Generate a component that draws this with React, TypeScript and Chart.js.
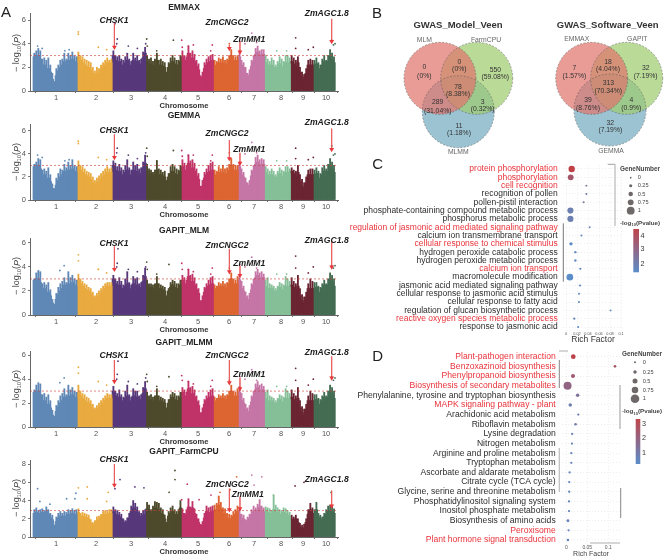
import React, { useEffect, useRef } from "react";
import { Chart, registerables } from "chart.js";

Chart.register(...registerables);

const FONT = "'Liberation Sans', Arial, sans-serif";

// ---------- Manhattan data ----------
const chromosomes = ["1", "2", "3", "4", "5", "6", "7", "8", "9", "10"];
const chromosomeLengths = [307, 244, 235, 246, 224, 174, 182, 181, 159, 150];
const chromosomeTicks = [158, 437, 681, 918, 1148, 1364, 1538, 1726, 1879, 2040];
const chromosomeColors = ["#5f88b6", "#e9aa3f", "#57387b", "#4e4a2c", "#c03369", "#dd6531", "#c576a6", "#85bf98", "#6b2532", "#446c53"];
const geneNames = ["CHSK1", "ZmCNGC2", "ZmMM1", "ZmAGC1.8"];
const genePositions = [565, 1366, 1440, 2079];

const solidMixedModels = [
  [2.9, 3.0, 3.0, 2.7, 2.2, 2.2, 1.8, 1.9, 1.6, 1.0, 0.6, 1.3, 1.7, 2.0, 2.2, 2.5, 2.2, 2.6, 2.5, 2.7, 2.5, 2.4],
  [2.9, 2.6, 2.4, 2.2, 2.1, 2.0, 1.8, 1.5, 1.3, 1.5, 1.5, 1.8, 2.0, 2.2, 2.4, 2.3, 2.4],
  [3.0, 2.6, 2.4, 2.5, 2.2, 2.1, 2.4, 2.6, 2.2, 2.1, 2.6, 2.4, 2.5, 2.2, 2.3, 2.8, 3.2],
  [2.5, 2.2, 2.3, 2.1, 2.2, 2.6, 2.2, 2.2, 2.1, 2.0, 1.2, 2.0, 2.3, 2.5, 2.3, 2.2, 2.2, 2.5],
  [2.9, 2.6, 2.5, 3.2, 2.7, 2.8, 2.5, 2.1, 1.8, 0.9, 1.2, 1.9, 2.2, 2.4, 2.5, 2.6],
  [2.2, 2.1, 2.4, 2.3, 2.4, 2.2, 2.3, 2.6, 3.0, 2.6, 2.5, 2.6],
  [2.9, 2.2, 2.0, 1.5, 1.0, 1.3, 2.1, 2.5, 3.1, 3.3, 3.0, 3.1, 3.1],
  [2.4, 2.2, 2.0, 2.2, 2.0, 1.7, 2.0, 2.3, 2.1, 2.0, 2.4, 2.4, 2.3],
  [2.5, 2.3, 2.1, 2.4, 1.6, 1.2, 1.0, 1.5, 2.2, 2.2, 2.2],
  [2.2, 2.3, 1.9, 1.8, 2.2, 2.5, 2.1, 2.5, 3.0, 2.7, 2.4],
];
const solidFarmCpu = [
  [2.6, 2.7, 2.5, 2.6, 2.7, 2.5, 2.8, 2.5, 2.1, 1.9, 0.9, 1.7, 2.1, 2.3, 2.1, 2.3, 2.2, 2.5, 2.4, 2.6, 2.4, 2.5],
  [2.7, 2.2, 2.3, 2.2, 2.1, 2.0, 1.5, 1.2, 1.4, 1.8, 1.9, 2.1, 2.4, 2.5, 2.4, 2.6, 2.6],
  [2.8, 2.5, 2.4, 2.2, 2.0, 1.6, 1.4, 1.7, 2.1, 2.8, 3.2, 3.0, 2.7, 2.3, 2.1, 2.4, 2.5],
  [3.1, 2.9, 2.5, 2.8, 3.2, 3.1, 3.0, 2.6, 2.5, 2.0, 1.2, 2.3, 2.6, 2.8, 2.5, 2.3, 2.5, 3.2],
  [2.6, 2.2, 2.5, 3.3, 2.7, 3.2, 2.6, 2.0, 1.6, 1.0, 1.3, 2.1, 2.8, 2.6, 2.7, 2.8],
  [2.9, 3.0, 3.5, 3.1, 2.6, 2.5, 2.1, 2.0, 2.0, 2.3, 2.5, 2.8],
  [2.5, 2.1, 2.0, 1.5, 1.8, 2.1, 2.5, 2.8, 2.6, 3.0, 3.3, 2.8, 2.7],
  [2.8, 2.7, 2.6, 2.4, 3.0, 2.9, 2.7, 2.5, 2.4, 2.7, 2.6, 2.4, 2.3],
  [2.0, 1.8, 2.0, 1.6, 1.1, 1.0, 1.0, 1.6, 2.5, 3.0, 2.6],
  [2.5, 3.0, 2.2, 2.0, 1.8, 2.2, 2.5, 2.8, 2.9, 2.7, 2.6],
];
const peaksEmmax = [
  [3.2, 3.4, 3.6, 3.4, 2.7, 2.8, 2.6, 2.8, 2.2, 1.5, 0.8, 1.9, 2.2, 2.6, 2.7, 3.2, 2.7, 3.2, 3.0, 3.3, 3.0, 2.9],
  [3.3, 3.0, 2.9, 2.7, 2.6, 2.5, 2.4, 2.0, 1.7, 2.0, 1.9, 2.2, 2.4, 2.6, 2.8, 2.6, 2.7],
  [3.4, 3.0, 2.9, 3.0, 2.7, 2.6, 2.9, 3.2, 2.7, 2.5, 3.2, 2.8, 3.0, 2.6, 2.7, 3.3, 3.7],
  [3.0, 2.7, 2.8, 2.5, 2.7, 3.2, 2.6, 2.7, 2.5, 2.4, 1.6, 2.4, 2.8, 3.0, 2.8, 2.6, 2.6, 3.0],
  [3.4, 3.0, 2.9, 3.8, 3.2, 3.4, 3.1, 2.6, 2.3, 1.3, 1.6, 2.4, 2.7, 2.9, 3.0, 3.1],
  [2.6, 2.5, 2.8, 2.7, 2.9, 2.6, 2.7, 3.0, 3.5, 3.0, 2.9, 3.0],
  [3.4, 2.6, 2.4, 2.0, 1.5, 1.8, 2.6, 3.0, 3.6, 3.8, 3.4, 3.5, 3.5],
  [3.0, 2.7, 2.5, 2.8, 2.6, 2.2, 2.5, 2.9, 2.7, 2.5, 3.0, 3.0, 2.8],
  [3.0, 2.8, 2.6, 2.9, 2.0, 1.6, 1.4, 1.9, 2.6, 2.7, 2.6],
  [2.6, 2.8, 2.4, 2.2, 2.7, 3.0, 2.6, 3.0, 3.5, 3.2, 2.9],
];
const peaksGemma = [
  [3.1, 3.3, 3.6, 3.5, 2.6, 2.7, 2.5, 2.8, 2.2, 1.4, 1.0, 1.9, 2.3, 2.7, 2.6, 3.1, 2.8, 3.3, 3.0, 3.5, 3.0, 2.9],
  [3.4, 3.0, 2.9, 2.7, 2.5, 2.4, 2.3, 2.0, 1.7, 1.9, 2.1, 2.3, 2.5, 2.7, 2.9, 2.7, 2.8],
  [3.4, 3.2, 2.9, 3.1, 2.8, 2.6, 3.0, 3.5, 2.8, 2.6, 3.3, 3.0, 3.1, 2.7, 2.8, 3.3, 3.9],
  [3.1, 2.7, 2.6, 2.4, 2.6, 3.4, 2.7, 2.6, 2.4, 2.5, 1.7, 2.3, 2.9, 3.1, 2.9, 2.7, 2.6, 3.0],
  [3.5, 3.2, 3.0, 3.9, 3.4, 3.5, 3.2, 2.7, 2.3, 1.2, 1.7, 2.4, 2.7, 3.0, 3.2, 3.3],
  [2.6, 2.5, 2.9, 2.7, 3.0, 2.7, 2.8, 3.1, 3.6, 3.1, 3.0, 3.0],
  [3.3, 2.7, 2.4, 1.9, 1.5, 1.7, 2.6, 3.0, 3.7, 3.9, 3.5, 3.6, 3.5],
  [2.9, 2.7, 2.5, 2.7, 2.5, 2.2, 2.5, 2.8, 2.6, 2.5, 2.9, 2.9, 2.7],
  [2.8, 2.6, 2.5, 3.0, 2.2, 1.8, 1.5, 2.0, 2.6, 2.7, 2.7],
  [2.6, 2.8, 2.5, 2.3, 2.8, 3.0, 2.7, 3.1, 3.6, 3.3, 3.0],
];
const peaksMlm = [
  [3.0, 3.5, 3.7, 3.6, 2.6, 2.7, 2.5, 2.7, 2.1, 1.3, 0.9, 1.8, 2.3, 2.6, 2.8, 3.1, 2.7, 3.6, 3.1, 3.3, 3.0, 2.9],
  [3.4, 3.0, 2.8, 2.6, 2.5, 2.3, 2.2, 1.9, 1.6, 1.8, 2.0, 2.2, 2.4, 2.6, 2.7, 2.7, 2.7],
  [3.3, 3.0, 2.8, 3.1, 2.8, 2.5, 3.0, 3.6, 2.7, 2.5, 3.2, 3.0, 3.1, 2.6, 2.7, 3.3, 3.9],
  [2.9, 2.6, 2.6, 2.5, 2.6, 3.2, 2.6, 2.5, 2.4, 2.3, 1.6, 2.2, 2.7, 2.9, 2.8, 2.6, 2.6, 2.9],
  [3.3, 3.1, 2.9, 3.8, 3.3, 3.4, 3.1, 2.6, 2.2, 1.2, 1.6, 2.3, 2.6, 2.9, 3.1, 3.2],
  [2.5, 2.4, 2.7, 2.6, 2.8, 2.6, 2.7, 3.0, 3.5, 3.0, 2.9, 3.2],
  [3.4, 2.8, 2.4, 1.9, 1.6, 1.8, 2.6, 3.0, 3.6, 3.8, 3.5, 3.6, 3.4],
  [2.9, 3.1, 2.6, 2.5, 2.4, 2.2, 2.4, 2.7, 2.6, 2.5, 3.2, 3.0, 2.8],
  [3.1, 2.8, 2.6, 3.3, 2.2, 1.7, 1.5, 1.9, 2.6, 3.0, 2.8],
  [2.7, 2.7, 2.4, 2.3, 2.6, 2.9, 2.6, 3.0, 3.5, 3.3, 3.0],
];
const peaksMlmm = [
  [3.1, 3.5, 3.7, 3.6, 2.7, 2.8, 2.5, 2.7, 2.2, 1.4, 0.9, 1.8, 2.2, 2.6, 2.8, 3.2, 2.7, 3.5, 3.1, 3.3, 3.0, 2.9],
  [3.5, 3.0, 2.8, 2.7, 2.5, 2.4, 2.2, 1.9, 1.6, 1.8, 2.0, 2.2, 2.4, 2.6, 2.8, 2.7, 2.7],
  [3.4, 3.0, 2.8, 3.1, 2.7, 2.5, 3.0, 3.5, 2.7, 2.5, 3.2, 3.0, 3.0, 2.6, 2.7, 3.3, 3.8],
  [2.9, 2.6, 2.7, 2.5, 2.6, 3.2, 2.6, 2.5, 2.4, 2.3, 1.6, 2.3, 2.7, 2.9, 2.8, 2.6, 2.6, 2.9],
  [3.3, 3.1, 2.9, 3.8, 3.3, 3.4, 3.1, 2.6, 2.2, 1.2, 1.6, 2.3, 2.6, 2.9, 3.1, 3.2],
  [2.5, 2.4, 2.7, 2.6, 2.8, 2.6, 2.7, 3.0, 3.5, 3.0, 2.9, 3.2],
  [3.4, 2.8, 2.4, 1.9, 1.6, 1.8, 2.6, 3.0, 3.6, 3.8, 3.5, 3.6, 3.4],
  [2.9, 3.1, 2.6, 2.5, 2.4, 2.2, 2.4, 2.7, 2.6, 2.5, 3.2, 3.0, 2.8],
  [3.1, 2.8, 2.6, 3.3, 2.2, 1.7, 1.5, 1.9, 2.6, 3.0, 2.8],
  [2.7, 2.7, 2.4, 2.3, 2.6, 2.9, 2.6, 3.0, 3.5, 3.3, 3.0],
];
const peaksFarmCpu = [
  [3.0, 3.2, 2.9, 3.0, 3.1, 2.9, 3.3, 3.0, 2.6, 2.4, 1.3, 2.2, 2.6, 2.8, 2.6, 2.8, 2.7, 3.0, 2.9, 3.1, 2.9, 3.0],
  [3.1, 2.6, 2.7, 2.6, 2.5, 2.4, 1.9, 1.6, 1.8, 2.2, 2.3, 2.5, 2.8, 2.9, 2.8, 3.0, 3.0],
  [3.3, 3.0, 2.9, 2.7, 2.5, 2.0, 1.8, 2.1, 2.6, 3.4, 4.0, 3.7, 3.3, 2.8, 2.6, 2.9, 3.0],
  [3.8, 3.5, 3.0, 3.4, 3.9, 3.8, 3.7, 3.2, 3.0, 2.4, 1.6, 2.8, 3.2, 3.4, 3.0, 2.8, 3.0, 4.0],
  [3.1, 2.6, 3.0, 4.2, 3.3, 3.9, 3.1, 2.5, 2.0, 1.4, 1.7, 2.6, 3.4, 3.2, 3.3, 3.4],
  [3.5, 3.7, 4.5, 3.8, 3.2, 3.1, 2.6, 2.5, 2.4, 2.8, 3.0, 3.4],
  [3.0, 2.5, 2.4, 1.9, 2.2, 2.5, 3.0, 3.4, 3.2, 3.6, 4.1, 3.4, 3.2],
  [3.3, 3.2, 3.1, 2.9, 4.6, 3.5, 3.2, 3.0, 2.9, 3.2, 3.1, 2.9, 2.7],
  [2.4, 2.2, 2.4, 2.0, 1.5, 1.3, 1.4, 2.0, 3.0, 3.7, 3.2],
  [3.0, 3.8, 2.6, 2.4, 2.2, 2.6, 3.0, 3.4, 3.5, 3.3, 3.1],
];

const pointsEmmax = [[314, 5.0], [314, 4.8], [453, 3.7], [511, 3.5], [569, 5.7], [585, 4.4], [581, 4.0], [662, 3.8], [725, 3.6], [790, 4.4], [783, 4.0], [794, 3.8], [860, 3.4], [976, 4.3], [1034, 4.3], [1038, 3.7], [1115, 3.9], [1080, 3.8], [1247, 3.9], [1236, 3.4], [1366, 4.0], [1440, 4.2], [1522, 4.9], [1475, 4.0], [1556, 4.1], [1828, 4.5], [1828, 3.6], [1916, 3.5], [1951, 3.7], [2079, 4.3], [2091, 3.9], [2102, 4.0], [1696, 3.4], [1765, 3.4], [30, 3.8], [62, 3.6], [220, 3.4], [250, 3.5]];
const pointsGemma = [[314, 5.1], [314, 4.9], [453, 3.7], [511, 3.5], [585, 4.5], [581, 4.1], [662, 3.9], [725, 3.6], [790, 4.5], [783, 4.1], [794, 3.8], [860, 3.4], [976, 4.3], [1034, 4.3], [1038, 3.8], [1115, 3.9], [1080, 3.9], [1247, 3.9], [1236, 3.4], [1366, 4.1], [1522, 5.0], [1475, 4.0], [1556, 4.1], [1828, 4.5], [1828, 3.6], [1916, 3.5], [1951, 3.7], [2079, 4.7], [2091, 3.9], [2102, 4.0], [1696, 3.4], [1765, 3.4], [30, 3.9], [62, 3.7], [220, 3.4], [250, 3.5]];
const pointsMlm = [[314, 5.0], [314, 4.5], [453, 3.8], [511, 3.5], [590, 5.5], [585, 4.3], [581, 4.0], [662, 3.8], [725, 3.6], [790, 4.4], [783, 4.0], [794, 3.8], [860, 3.4], [945, 4.2], [1034, 4.3], [1038, 3.8], [1115, 3.6], [1080, 3.8], [1247, 3.9], [1236, 3.4], [1366, 3.9], [1440, 4.2], [1522, 4.8], [1475, 4.0], [1556, 3.9], [1828, 4.9], [1828, 3.9], [1916, 3.5], [1951, 4.0], [2079, 4.1], [2091, 3.9], [2102, 4.1], [1696, 3.4], [1765, 3.4], [215, 4.1], [185, 3.7], [453, 3.8]];
const pointsMlmm = [[314, 5.0], [314, 4.5], [453, 3.8], [511, 3.5], [590, 5.5], [585, 4.4], [581, 4.0], [662, 3.8], [725, 3.6], [790, 4.4], [783, 4.1], [794, 3.8], [860, 3.4], [945, 4.2], [1034, 4.3], [1038, 3.9], [1115, 3.6], [1080, 3.8], [1247, 3.9], [1236, 3.4], [1366, 3.9], [1440, 4.2], [1522, 4.8], [1475, 4.0], [1556, 3.9], [1828, 4.9], [1828, 3.9], [1916, 3.5], [1951, 4.0], [2079, 4.2], [2091, 3.9], [2102, 4.1], [1696, 3.4], [1765, 3.4], [215, 4.1], [185, 3.7]];
const pointsFarmCpu = [[30, 5.3], [46, 3.9], [116, 3.6], [232, 4.2], [297, 4.8], [290, 4.2], [314, 5.4], [376, 5.5], [376, 4.2], [511, 3.9], [522, 4.9], [569, 5.3], [604, 6.3], [708, 5.5], [771, 5.4], [946, 4.9], [987, 7.3], [987, 6.3], [1073, 5.8], [1034, 4.1], [1155, 4.1], [1238, 4.6], [1301, 4.9], [1371, 5.2], [1417, 6.6], [1522, 6.8], [1538, 5.7], [1592, 6.6], [1824, 5.6], [1886, 6.0], [2075, 4.9], [1673, 4.6]];

// ---------- Venn data ----------
const vennModelSets = ["MLM", "FarmCPU", "MLMM"];
const vennModelCounts = ["0", "0", "550", "78", "289", "3", "11"];
const vennModelShares = ["(0%)", "(0%)", "(59.08%)", "(8.38%)", "(31.04%)", "(0.32%)", "(1.18%)"];
const vennSoftwareSets = ["EMMAX", "GAPIT", "GEMMA"];
const vennSoftwareCounts = ["7", "18", "32", "313", "39", "4", "32"];
const vennSoftwareShares = ["(1.57%)", "(4.04%)", "(7.19%)", "(70.34%)", "(8.76%)", "(0.9%)", "(7.19%)"];

// ---------- GO enrichment ----------
const goTerms = ["protein phosphorylation", "phosphorylation", "cell recognition", "recognition of pollen", "pollen-pistil interaction", "phosphate-containing compound metabolic process", "phosphorus metabolic process", "regulation of jasmonic acid mediated signaling pathway", "calcium ion transmembrane transport", "cellular response to chemical stimulus", "hydrogen peroxide catabolic process", "hydrogen peroxide metabolic process", "calcium ion transport", "macromolecule modification", "jasmonic acid mediated signaling pathway", "cellular response to jasmonic acid stimulus", "cellular response to fatty acid", "regulation of glucan biosynthetic process", "reactive oxygen species metabolic process", "response to jasmonic acid"];
const goHighlighted = [0, 1, 2, 7, 9, 12, 18];
const goRichFactor = [0.0103, 0.0085, 0.037, 0.037, 0.032, 0.008, 0.008, 0.043, 0.028, 0.009, 0.017, 0.017, 0.026, 0.007, 0.0255, 0.0236, 0.0236, 0.081, 0.015, 0.022];
const goGeneNumber = [0.85, 0.75, 0.03, 0.03, 0.05, 0.8, 0.8, 0.03, 0.06, 0.3, 0.1, 0.1, 0.06, 0.9, 0.06, 0.05, 0.05, 0.02, 0.08, 0.05];
const goLogP = [4.7, 3.8, 2.4, 2.1, 2.3, 1.9, 1.9, 1.7, 1.6, 1.4, 1.5, 1.5, 1.5, 1.3, 1.5, 1.5, 1.5, 1.5, 1.5, 1.5];

// ---------- KEGG enrichment ----------
const keggTerms = ["Plant-pathogen interaction", "Benzoxazinoid biosynthesis", "Phenylpropanoid biosynthesis", "Biosynthesis of secondary metabolites", "Phenylalanine, tyrosine and tryptophan biosynthesis", "MAPK signaling pathway - plant", "Arachidonic acid metabolism", "Riboflavin metabolism", "Lysine degradation", "Nitrogen metabolism", "Arginine and proline metabolism", "Tryptophan metabolism", "Ascorbate and aldarate metabolism", "Citrate cycle (TCA cycle)", "Glycine, serine and threonine metabolism", "Phosphatidylinositol signaling system", "Inositol phosphate metabolism", "Biosynthesis of amino acids", "Peroxisome", "Plant hormone signal transduction"];
const keggHighlighted = [0, 1, 2, 3, 5, 18, 19];
const keggRichFactor = [0.0167, 0.116, 0.016, 0.003, 0.027, 0.0095, 0.0286, 0.022, 0.014, 0.0135, 0.012, 0.012, 0.008, 0.007, 0.007, 0.0065, 0.0065, 0.004, 0.0055, 0.004];
const keggGeneNumber = [0.45, 0.1, 0.35, 1, 0.25, 0.25, 0.05, 0.1, 0.05, 0.05, 0.05, 0.05, 0.05, 0.05, 0.05, 0.05, 0.05, 0.15, 0.05, 0.1];
const keggLogP = [3.3, 2.7, 2.5, 2.1, 1.6, 1.1, 1.2, 1.2, 1.0, 1.0, 1.0, 1.0, 0.9, 0.9, 0.9, 0.9, 0.9, 0.9, 0.9, 0.9];
const legendSizes = [0, 0.25, 0.5, 0.75, 1];

// ---------- helpers ----------
type Txt = { t: string; x: number; y: number; f: string; c?: string; a?: CanvasTextAlign };

function drawTexts(ctx: CanvasRenderingContext2D, list: Txt[], ox = 0, oy = 0) {
  ctx.save();
  ctx.textBaseline = "middle";
  for (const s of list) {
    ctx.font = `${s.f} ${FONT}`;
    ctx.fillStyle = s.c || "#333";
    ctx.textAlign = s.a || "center";
    ctx.fillText(s.t, s.x - ox, s.y - oy);
  }
  ctx.restore();
}

function drawYLabel(ctx: CanvasRenderingContext2D, x: number, y: number) {
  ctx.save();
  ctx.translate(x, y);
  ctx.rotate(-Math.PI / 2);
  ctx.fillStyle = "#444";
  ctx.textBaseline = "middle";
  ctx.textAlign = "left";
  const parts: [string, string, number][] = [
    ["\u2212 log", `9px ${FONT}`, 0],
    ["10", `5.5px ${FONT}`, 2.5],
    ["(", `9px ${FONT}`, 0],
    ["P", `italic 9px ${FONT}`, 0],
    [")", `9px ${FONT}`, 0],
  ];
  let w = 0;
  for (const [s, f] of parts) { ctx.font = f; w += ctx.measureText(s).width; }
  let cx = -w / 2;
  for (const [s, f, dy] of parts) {
    ctx.font = f;
    ctx.fillText(s, cx, dy);
    cx += ctx.measureText(s).width;
  }
  ctx.restore();
}

function Canvas({ left, top, width, height, build }: any) {
  const ref = useRef<HTMLCanvasElement>(null);
  useEffect(() => {
    const chart = new Chart(ref.current as HTMLCanvasElement, build());
    return () => chart.destroy();
  }, []);
  return <canvas ref={ref} width={width} height={height} style={{ position: "absolute", left, top, width, height }} />;
}

const chromosomeStarts = chromosomeLengths.map((_, i) => chromosomeLengths.slice(0, i).reduce((a, b) => a + b, 0));
function colorAt(x: number) {
  let k = 0;
  chromosomeStarts.forEach((s, i) => { if (x >= s) k = i; });
  return chromosomeColors[k];
}

type Panel = {
  title: string; peaks: number[][]; solid: number[][]; points: number[][];
  top: number; axisTop: number; y0: number; yMax: number; threshold: number;
  arrowTops: number[]; arrowTips: number[]; labelX: number[]; labelY: number[]; labelYMid: number; ticks: number;
  letter?: string;
};

function binned(vals: number[], c: number) {
  return vals.map((v, i) => ({ x: chromosomeStarts[c] + ((i + 0.5) * chromosomeLengths[c]) / vals.length, y: v }));
}

function manhattan(p: Panel) {
  const solidSets = p.solid.map((vals, c) => ({
    type: "bar", label: "Chr" + chromosomes[c] + " band", order: 6,
    data: binned(vals, c),
    backgroundColor: chromosomeColors[c], barThickness: 2.7, grouped: false,
  }));
  const peakSets = p.peaks.map((vals, c) => ({
    type: "bar", label: "Chr" + chromosomes[c], order: 5,
    data: binned(vals, c),
    backgroundColor: chromosomeColors[c], barThickness: 1.2, grouped: false,
  }));
  const scatter = {
    type: "scatter", label: "top SNPs", order: 4,
    data: p.points.map(([x, y]) => ({ x, y })),
    pointRadius: 0.9, pointBorderWidth: 0,
    pointBackgroundColor: (c: any) => (c.raw ? colorAt(c.raw.x) : "#000"),
  };
  const threshold = {
    type: "line", label: "threshold", order: 2,
    data: [{ x: -23, y: p.threshold }, { x: 2123, y: p.threshold }],
    borderColor: "rgba(205,70,60,.8)", borderWidth: 0.8, borderDash: [2, 2], pointRadius: 0,
  };
  const arrows = geneNames.map((g, i) => ({
    type: "line", label: g, order: 1, clip: false,
    data: [{ x: genePositions[i], y: p.arrowTops[i] }, { x: genePositions[i], y: p.arrowTips[i] }],
    borderColor: "rgba(232,80,80,.65)", borderWidth: 1,
    pointRadius: [0, 2.8], pointStyle: "triangle", pointRotation: 180,
    pointBackgroundColor: "#e8383b", pointBorderWidth: 0,
  }));
  const texts: Txt[] = [
    { t: p.title, x: 184, y: p.top + 8, f: "bold 8.5px", c: "#222" },
    ...geneNames.map((g, i) => ({ t: g, x: p.labelX[i], y: p.labelY[i], f: "italic bold 8.6px", c: "#1c1c1c" })),
  ];
  if (p.letter) texts.push({ t: p.letter, x: 6, y: 13, f: "15px", c: "#222" });
  return {
    type: "bar",
    data: { datasets: [...arrows, threshold, scatter, ...peakSets, ...solidSets] },
    options: {
      animation: false, responsive: false, devicePixelRatio: 1,
      layout: { padding: { top: p.axisTop - p.top, left: 0, right: 22, bottom: 0 } },
      plugins: { legend: { display: false }, tooltip: { enabled: false } },
      scales: {
        x: {
          type: "linear", offset: false, min: -23, max: 2123,
          afterBuildTicks: (s: any) => { s.ticks = chromosomeTicks.map((value) => ({ value })); },
          afterFit: (s: any) => { s.height = 20; },
          ticks: { autoSkip: false, maxRotation: 0, padding: 0, color: "#555", font: { size: 7.5, family: FONT }, callback: (_: any, i: number) => chromosomes[i] },
          grid: { drawOnChartArea: false, tickLength: 2, color: "#777" },
          border: { color: "#666", width: 1 },
          title: { display: true, text: "Chromosome", color: "#333", font: { size: 7.6, weight: "bold", family: FONT }, padding: { top: 0, bottom: 1 } },
        },
        y: {
          min: 0, max: p.yMax,
          afterFit: (s: any) => { s.width = 30; },
          ticks: { stepSize: p.ticks, includeBounds: false, padding: 2, color: "#555", font: { size: 7.5, family: FONT } },
          grid: { drawOnChartArea: false, tickLength: 2, color: "#777" },
          border: { color: "#666", width: 1 },
        },
      },
    },
    plugins: [{
      id: "panelText",
      afterDraw(ch: any) {
        drawTexts(ch.ctx, texts, 0, p.top);
        drawYLabel(ch.ctx, 17, p.labelYMid - p.top);
      },
    }],
  };
}

const panels: Panel[] = [
  { title: "EMMAX", peaks: peaksEmmax, solid: solidMixedModels, points: pointsEmmax, top: 0, axisTop: 13, y0: 91, yMax: 6.6, threshold: 3, arrowTops: [5.8, 3.9, 4.2, 6.1], arrowTips: [3.7, 3.6, 3.3, 4.2], labelX: [114, 227, 249.3, 326.7], labelY: [20.7, 22.3, 39.3, 14], labelYMid: 53, ticks: 2, letter: "A" },
  { title: "GEMMA", peaks: peaksGemma, solid: solidMixedModels, points: pointsGemma, top: 108, axisTop: 124, y0: 200, yMax: 6.6, threshold: 3, arrowTops: [5.7, 5.2, 4.1, 6.2], arrowTips: [3.7, 3.6, 3.2, 4.4], labelX: [114, 227, 249.3, 326.7], labelY: [130.7, 133.3, 149.3, 122.7], labelYMid: 162, ticks: 2 },
  { title: "GAPIT_MLM", peaks: peaksMlm, solid: solidMixedModels, points: pointsMlm, top: 223, axisTop: 238, y0: 315, yMax: 6.4, threshold: 3, arrowTops: [5.7, 5.5, 4.1, 6.1], arrowTips: [3.8, 3.6, 3.3, 4.0], labelX: [114, 227, 249.3, 326.7], labelY: [244, 246, 263.3, 240.7], labelYMid: 276, ticks: 2 },
  { title: "GAPIT_MLMM", peaks: peaksMlmm, solid: solidMixedModels, points: pointsMlmm, top: 335, axisTop: 351, y0: 427, yMax: 6.35, threshold: 3, arrowTops: [5.6, 5.6, 4.1, 5.9], arrowTips: [3.8, 3.7, 3.2, 4.1], labelX: [114, 227, 249.3, 326.7], labelY: [356, 356, 375, 352.7], labelYMid: 389, ticks: 2 },
  { title: "GAPIT_FarmCPU", peaks: peaksFarmCpu, solid: solidFarmCpu, points: pointsFarmCpu, top: 444, axisTop: 460, y0: 537, yMax: 8.45, threshold: 2.9, arrowTops: [8, 5.3, 4.4, 5.1], arrowTips: [5.7, 3.0, 3.1, 3.4], labelX: [114, 227.3, 247.7, 326.7], labelY: [460, 484.3, 494.3, 480], labelYMid: 498, ticks: 2 },
];

function venn() {
  const RADIUS = 36;
  const circle = (x: number, y: number, label: string) => ({ x, y, r: RADIUS, label });
  const fills = ["rgba(224,118,110,.72)", "rgba(160,204,112,.72)", "rgba(118,172,192,.72)"];
  const model = [circle(440, 78.3, vennModelSets[0]), circle(476.7, 78.3, vennModelSets[1]), circle(458.3, 111.7, vennModelSets[2])];
  const software = [circle(591.7, 78.3, vennSoftwareSets[0]), circle(626.7, 78.3, vennSoftwareSets[1]), circle(610, 110, vennSoftwareSets[2])];
  const all = [...model, ...software];
  const fmp = [[424.3, 67, 76], [459.3, 62, 69.5], [495.3, 70, 77.3], [458, 87.3, 94.3], [437.7, 102.3, 110.7], [482.7, 101.7, 109], [459, 126, 133.3]];
  const fsp = [[574.3, 68.3, 75.7], [608, 61.7, 69], [645.7, 68.3, 75.7], [608.3, 83.3, 90.7], [588, 100, 107.7], [631.3, 100, 107.7], [610.3, 122.7, 130]];
  const texts: Txt[] = [
    { t: "B", x: 377, y: 14, f: "15px", c: "#222" },
    { t: "GWAS_Model_Veen", x: 458, y: 25, f: "bold 9.5px" },
    { t: "GWAS_Software_Veen", x: 607.7, y: 25, f: "bold 9.5px" },
    { t: vennModelSets[0], x: 424.3, y: 40, f: "6.8px", c: "#666" },
    { t: vennModelSets[1], x: 486, y: 40, f: "6.8px", c: "#666" },
    { t: vennModelSets[2], x: 458.3, y: 152.3, f: "6.8px", c: "#666" },
    { t: vennSoftwareSets[0], x: 576.7, y: 39, f: "6.8px", c: "#666" },
    { t: vennSoftwareSets[1], x: 637.3, y: 39, f: "6.8px", c: "#666" },
    { t: vennSoftwareSets[2], x: 611, y: 150.7, f: "6.8px", c: "#666" },
  ];
  fmp.forEach(([x, a, b], i) => {
    texts.push({ t: vennModelCounts[i], x, y: a, f: "6.8px" }, { t: vennModelShares[i], x, y: b, f: "6.8px" });
  });
  fsp.forEach(([x, a, b], i) => {
    texts.push({ t: vennSoftwareCounts[i], x, y: a, f: "6.8px" }, { t: vennSoftwareShares[i], x, y: b, f: "6.8px" });
  });
  // A bubble chart insets its area by the largest radius; the scale bounds below undo that so one unit is one pixel.
  return {
    type: "bubble",
    data: { datasets: all.map((c, i) => ({ label: c.label, data: [c], backgroundColor: fills[i % 3], borderWidth: 0, clip: false })) },
    options: {
      animation: false, responsive: false, devicePixelRatio: 1,
      layout: { padding: 0 },
      plugins: { legend: { display: false }, tooltip: { enabled: false } },
      scales: {
        x: { display: false, min: 365 + RADIUS, max: 665 - RADIUS },
        y: { display: false, min: RADIUS, max: 160 - RADIUS, reverse: true },
      },
    },
    plugins: [{
      id: "vennText",
      afterDraw(ch: any) {
        const ctx = ch.ctx;
        ctx.save();
        ctx.setLineDash([2, 1.5]);
        ctx.lineWidth = 0.5;
        ctx.strokeStyle = "#555";
        ch.data.datasets.forEach((_: any, i: number) => {
          const el = ch.getDatasetMeta(i).data[0];
          ctx.beginPath();
          ctx.arc(el.x, el.y, el.options.radius, 0, Math.PI * 2);
          ctx.stroke();
        });
        ctx.restore();
        drawTexts(ctx, texts, 365, 0);
      },
    }],
  };
}

function mix(t: number, lo: number, hi: number) {
  const k = Math.max(0, Math.min(1, (t - lo) / (hi - lo)));
  const a = [91, 142, 201], b = [192, 64, 70];
  return `rgb(${a.map((v, i) => Math.round(v + (b[i] - v) * k)).join(",")})`;
}

type Dot = {
  letter: string; letterY: number; terms: string[]; red: number[]; rich: number[]; genes: number[]; logP: number[];
  top: number; height: number; areaTop: number; left: number; min: number; max: number; right: number; xStep: number;
  tickFont: number; xFont: number; axisFont: number; axisColor: string; axisHeight: number; axisPad: number; tickPad: number;
  rBase: number; rGain: number; pLo: number; pHi: number;
  legendTitleX: number; legendTitleY: number; dotX: number; dotYs: number[]; labelX: number; barX: number; barW: number; barTop: number; barBottom: number; barTitleY: number; barLabels: string[]; barLabelYs: number[]; barLabelX: number;
  marks: { x1: number; y1: number; x2: number; y2: number; c: string; w: number }[];
};

function dotPlot(d: Dot) {
  const canvasLeft = 340;
  const r = (g: number) => d.rBase + d.rGain * g;
  return {
    type: "bubble",
    data: {
      datasets: [{
        label: "enrichment",
        data: d.terms.map((t, i) => ({ x: d.rich[i], y: t, r: r(d.genes[i]) })),
        backgroundColor: d.logP.map((v) => mix(v, d.pLo, d.pHi)),
        borderWidth: 0,
      }],
    },
    options: {
      animation: false, responsive: false, devicePixelRatio: 1,
      layout: { padding: { top: d.areaTop - d.top, left: 0, right: 665 - d.right, bottom: 0 } },
      plugins: { legend: { display: false }, tooltip: { enabled: false } },
      scales: {
        x: {
          type: "linear", min: d.min, max: d.max,
          afterFit: (s: any) => { s.height = d.axisHeight; },
          ticks: { stepSize: d.xStep, includeBounds: false, padding: 0, maxRotation: 0, color: "#555", font: { size: d.xFont, family: FONT }, callback: (v: number) => String(+v.toFixed(2)) },
          grid: { color: "#eeeeee", drawTicks: false },
          border: { display: false, dash: [1, 2] },
          title: { display: true, text: "Rich Factor", color: d.axisColor, font: { size: d.axisFont, family: FONT }, padding: { top: 0, bottom: d.axisPad } },
        },
        y: {
          type: "category", labels: d.terms, offset: true,
          afterFit: (s: any) => { s.width = d.left - canvasLeft; },
          ticks: {
            autoSkip: false, padding: d.tickPad, font: { size: d.tickFont, family: FONT },
            color: (c: any) => (d.red.includes(c.index) ? "#e8333a" : "#2c2c2c"),
          },
          grid: { color: "#eeeeee", drawTicks: false },
          border: { display: false, dash: [1, 2] },
        },
      },
    },
    plugins: [{
      id: "dotExtras",
      afterDraw(ch: any) {
        const ctx = ch.ctx;
        ctx.save();
        for (const m of d.marks) {
          ctx.strokeStyle = m.c; ctx.lineWidth = m.w;
          ctx.beginPath();
          ctx.moveTo(m.x1 - canvasLeft, m.y1 - d.top);
          ctx.lineTo(m.x2 - canvasLeft, m.y2 - d.top);
          ctx.stroke();
        }
        ctx.fillStyle = "#6e6868";
        legendSizes.forEach((g, i) => {
          ctx.beginPath();
          ctx.arc(d.dotX - canvasLeft, d.dotYs[i] - d.top, r(g) + (i === 4 ? 0.3 : 0), 0, Math.PI * 2);
          ctx.fill();
        });
        const grad = ctx.createLinearGradient(0, d.barTop - d.top, 0, d.barBottom - d.top);
        grad.addColorStop(0, "#c0444a");
        grad.addColorStop(1, "#5b8ec9");
        ctx.fillStyle = grad;
        ctx.fillRect(d.barX - canvasLeft, d.barTop - d.top, d.barW, d.barBottom - d.barTop);
        ctx.restore();
        const x0 = d.legendTitleX - 20;
        const texts: Txt[] = [
          { t: d.letter, x: 377.7, y: d.letterY, f: "15px", c: "#222" },
          { t: "GeneNumber", x: d.legendTitleX, y: d.legendTitleY, f: "bold 6.4px", c: "#444" },
          { t: "-log", x: x0, y: d.barTitleY, f: "bold 6.2px", c: "#444", a: "left" },
          { t: "10", x: x0 + 11.5, y: d.barTitleY + 2, f: "bold 4px", c: "#444", a: "left" },
          { t: "(Pvalue)", x: x0 + 16, y: d.barTitleY, f: "bold 6.2px", c: "#444", a: "left" },
          ...legendSizes.map((g, i) => ({ t: String(g), x: d.labelX, y: d.dotYs[i], f: "5.6px", c: "#444", a: "left" as CanvasTextAlign })),
          ...d.barLabels.map((t, i) => ({ t, x: d.barLabelX, y: d.barLabelYs[i], f: "7.2px", c: "#333", a: "left" as CanvasTextAlign })),
        ];
        drawTexts(ctx, texts, canvasLeft, d.top);
      },
    }],
  };
}

const goPlot: Dot = {
  letter: "C", letterY: 165, terms: goTerms, red: goHighlighted, rich: goRichFactor, genes: goGeneNumber, logP: goLogP,
  top: 148, height: 202, areaTop: 164.84, left: 563, min: -0.0055, max: 0.1036, right: 623, xStep: 0.02,
  tickFont: 8.5, xFont: 3.8, axisFont: 8.5, axisColor: "#333", axisHeight: 18.8, axisPad: 5, tickPad: 5.3,
  rBase: 0.9, rGain: 2.7, pLo: 1.3, pHi: 4.7,
  legendTitleX: 640, legendTitleY: 169, dotX: 630.7, dotYs: [177.7, 185.7, 194, 202.3, 210.7], labelX: 637.7,
  barX: 633.3, barW: 5.7, barTop: 229, barBottom: 272.3, barTitleY: 223.3, barLabels: ["4", "3", "2"], barLabelYs: [235.7, 249.5, 263.7], barLabelX: 640.5,
  marks: [
    { x1: 607.7, y1: 164.3, x2: 615, y2: 164.3, c: "#888", w: 0.8 },
    { x1: 615, y1: 164.3, x2: 615, y2: 226, c: "#aaa", w: 1 },
    { x1: 563.3, y1: 223.3, x2: 563.3, y2: 281.7, c: "#555", w: 0.8 },
  ],
};
const keggPlot: Dot = {
  letter: "D", letterY: 357, terms: keggTerms, red: keggHighlighted, rich: keggRichFactor, genes: keggGeneNumber, logP: keggLogP,
  top: 335, height: 225, areaTop: 351.9, left: 562, min: -0.0102, max: 0.128, right: 620, xStep: 0.05,
  tickFont: 8.6, xFont: 5, axisFont: 7, axisColor: "#444", axisHeight: 15.2, axisPad: 2.2, tickPad: 6.3,
  rBase: 1, rGain: 3, pLo: 0.6, pHi: 3.4,
  legendTitleX: 642, legendTitleY: 354, dotX: 635, dotYs: [362.3, 372, 381, 390, 398.7], labelX: 642.7,
  barX: 635.7, barW: 4.6, barTop: 419, barBottom: 464, barTitleY: 411.7, barLabels: ["3", "2", "1"], barLabelYs: [424, 438.3, 452.7], barLabelX: 642,
  marks: [
    { x1: 559, y1: 351, x2: 568, y2: 351, c: "#999", w: 0.8 },
    { x1: 559.3, y1: 360, x2: 559.3, y2: 388, c: "#666", w: 0.8 },
    { x1: 620, y1: 385, x2: 620, y2: 429, c: "#bbb", w: 1.5 },
    { x1: 559.3, y1: 448, x2: 559.3, y2: 492, c: "#bbb", w: 1.2 },
    { x1: 620.7, y1: 488, x2: 620.7, y2: 518, c: "#666", w: 0.8 },
    { x1: 590, y1: 543, x2: 620, y2: 543, c: "#bbb", w: 1.2 },
  ],
};

export default function App() {
  return (
    <div style={{ position: "fixed", left: 0, top: 0, width: 665, height: 560, background: "#fff", overflow: "hidden" }}>
      {panels.map((p) => (
        <Canvas key={p.title} left={0} top={p.top} width={360} height={p.y0 - p.top + 20} build={() => manhattan(p)} />
      ))}
      <Canvas left={365} top={0} width={300} height={160} build={venn} />
      <Canvas left={340} top={goPlot.top} width={325} height={goPlot.height} build={() => dotPlot(goPlot)} />
      <Canvas left={340} top={keggPlot.top} width={325} height={keggPlot.height} build={() => dotPlot(keggPlot)} />
    </div>
  );
}
